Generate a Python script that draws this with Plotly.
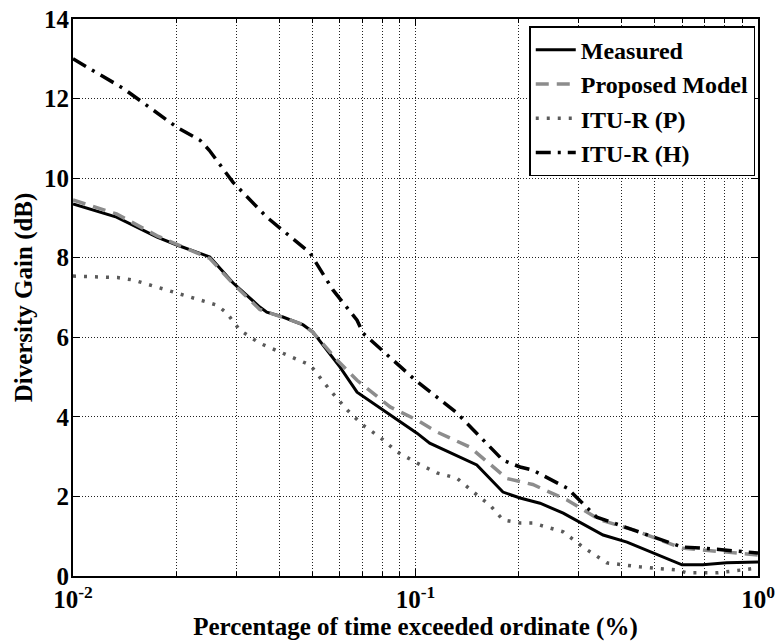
import plotly.graph_objects as go

# ---- data ----
meas_x = [0.01, 0.0134, 0.0176, 0.0201, 0.0251, 0.0293, 0.0351, 0.0368, 0.041, 0.047, 0.0502,
          0.0602, 0.0675, 0.0804, 0.101, 0.110, 0.151, 0.180, 0.202, 0.231, 0.270, 0.353,
          0.4145, 0.600, 0.69, 0.81, 1.0]
meas_y = [9.35, 9.02, 8.52, 8.32, 8.02, 7.37, 6.76, 6.63, 6.51, 6.31, 6.13,
          5.25, 4.62, 4.17, 3.59, 3.34, 2.79, 2.11, 1.96, 1.83, 1.58, 1.03,
          0.85, 0.28, 0.28, 0.33, 0.35]

prop_x = [0.01, 0.0134, 0.0176, 0.0201, 0.0251, 0.0293, 0.0351, 0.041, 0.047, 0.0502, 0.059,
          0.0675, 0.0843, 0.101, 0.1155, 0.144, 0.173, 0.185, 0.22, 0.277, 0.346, 0.432,
          0.60, 0.69, 1.0]
prop_y = [9.45, 9.1, 8.55, 8.33, 7.98, 7.35, 6.7, 6.5, 6.32, 6.12, 5.43,
          4.92, 4.25, 3.92, 3.62, 3.24, 2.66, 2.45, 2.3, 1.91, 1.41, 1.16,
          0.70, 0.65, 0.53]

itup_x = [0.01, 0.0135, 0.015, 0.0201, 0.0235, 0.0263, 0.0281, 0.0307, 0.0351, 0.0402, 0.0493,
          0.0563, 0.0632, 0.0703, 0.0787, 0.0883, 0.101, 0.1155, 0.132, 0.154, 0.165, 0.180,
          0.202, 0.22, 0.27, 0.308, 0.362, 0.452, 0.58, 0.62, 0.76, 1.0]
itup_y = [7.54, 7.5, 7.44, 7.11, 6.93, 6.81, 6.61, 6.18, 5.85, 5.63, 5.30,
          4.67, 4.17, 3.79, 3.49, 3.12, 2.84, 2.59, 2.46, 1.98, 1.78, 1.41,
          1.33, 1.33, 1.11, 0.73, 0.33, 0.23, 0.15, 0.08, 0.08, 0.2]

ituh_x = [0.01, 0.014, 0.0201, 0.0235, 0.025, 0.0293, 0.0368, 0.0492, 0.0574, 0.0675, 0.0703,
          0.0883, 0.1, 0.132, 0.157, 0.18, 0.202, 0.22, 0.277, 0.338, 0.432, 0.60, 0.69, 1.0]
ituh_y = [13.0, 12.26, 11.28, 10.95, 10.7, 9.90, 9.02, 8.12, 7.19, 6.43, 6.1,
          5.35, 4.92, 4.10, 3.42, 2.91, 2.74, 2.66, 2.21, 1.48, 1.16, 0.73, 0.70, 0.58]

x_major = [0.01, 0.1, 1]
x_major_text = ["10<sup>-2</sup>", "10<sup>-1</sup>", "10<sup>0</sup>"]
x_minor = [k * 0.01 for k in range(2, 10)] + [k * 0.1 for k in range(2, 10)]
y_ticks = [0, 2, 4, 6, 8, 10, 12, 14]

FONT = "Liberation Serif"

fig = go.Figure()
fig.add_trace(go.Scatter(x=meas_x, y=meas_y, mode="lines", name="Measured",
                         line=dict(color="black", width=3)))
fig.add_trace(go.Scatter(x=prop_x, y=prop_y, mode="lines", name="Proposed Model",
                         line=dict(color="#8c8c8c", width=3.5, dash="13px,8px")))
fig.add_trace(go.Scatter(x=itup_x, y=itup_y, mode="lines", name="ITU-R (P)",
                         line=dict(color="#5a5a5a", width=3.5, dash="3px,8px")))
fig.add_trace(go.Scatter(x=ituh_x, y=ituh_y, mode="lines", name="ITU-R (H)",
                         line=dict(color="black", width=3.5, dash="15px,7px,3px,7px")))

fig.update_layout(
    width=776, height=641,
    margin=dict(l=73, r=18, t=19, b=65),
    paper_bgcolor="white", plot_bgcolor="white",
    font=dict(family=FONT, size=22, color="black", weight="bold"),
    showlegend=True,
    legend=dict(x=0.996, y=0.987, xanchor="right", yanchor="top",
                bgcolor="white", bordercolor="black", borderwidth=1.5,
                font=dict(family=FONT, size=24, color="black", weight="bold"),
                itemwidth=40, tracegroupgap=0),
)

fig.update_xaxes(
    type="log", range=[-2, 0], automargin=False,
    tickmode="array", tickvals=x_major, ticktext=x_major_text,
    showgrid=True, gridcolor="#222", gridwidth=1, griddash="1px,2px",
    ticks="inside", ticklen=7, tickwidth=1, tickcolor="black",
    showline=True, linecolor="black", linewidth=2, mirror="allticks",
    minor=dict(tickmode="array", tickvals=x_minor, showgrid=True, gridcolor="#222",
               gridwidth=1, griddash="1px,2px", ticks="inside", ticklen=4, tickcolor="black"),
    title=dict(text="Percentage of time exceeded ordinate (%)", standoff=6,
               font=dict(family=FONT, size=25, weight="bold")),
    tickfont=dict(family=FONT, size=25, weight="bold"),
    zeroline=False,
)
fig.update_yaxes(
    range=[0, 14], tickmode="array", tickvals=y_ticks, automargin=False,
    showgrid=True, gridcolor="#222", gridwidth=1, griddash="1px,2px",
    ticks="inside", ticklen=7, tickwidth=1, tickcolor="black",
    showline=True, linecolor="black", linewidth=2, mirror="allticks",
    title=dict(text="Diversity Gain (dB)", standoff=4,
               font=dict(family=FONT, size=25, weight="bold")),
    tickfont=dict(family=FONT, size=25, weight="bold"),
    ticklabelstandoff=-3,
    zeroline=False,
)

fig.write_html("out.html", config={"displayModeBar": False},
               post_script="document.body.style.margin='0';document.body.style.padding='0';")
